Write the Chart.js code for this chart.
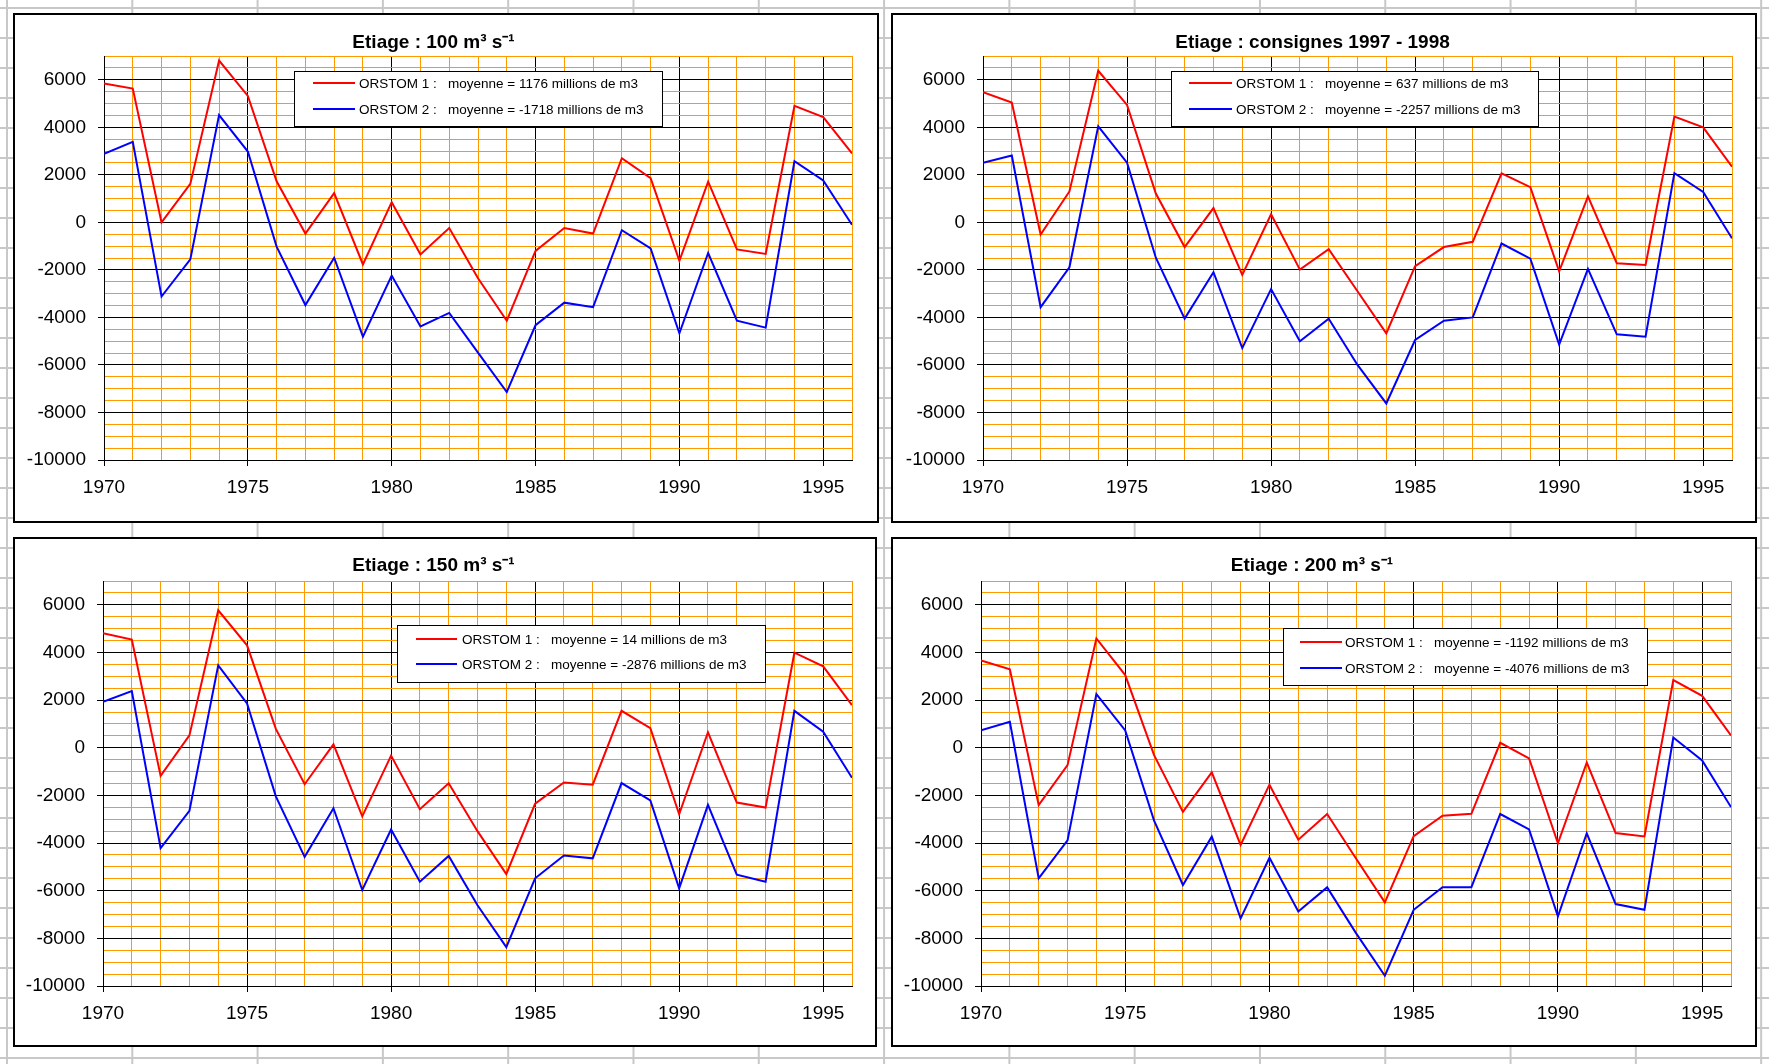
<!DOCTYPE html>
<html>
<head>
<meta charset="utf-8">
<script src="https://cdn.jsdelivr.net/npm/chart.js@4.4.0/dist/chart.umd.min.js"></script>
<style>
html, body { margin: 0; padding: 0; }
body {
    width: 1769px; height: 1064px; overflow: hidden; position: relative; background-color: #fff;
    background-image:
        linear-gradient(to right, #c8c8c8 0, #c8c8c8 2px, transparent 2px),
        linear-gradient(to bottom, #c8c8c8 0, #c8c8c8 2px, transparent 2px);
    background-size: 125.3px 100%, 100% 30px;
    background-position: 6px 0, 0 7px;
}
.panel { position: absolute; box-sizing: border-box; border: 2px solid #000; background: #fff; }
.panel canvas { display: block; }
</style>
</head>
<body>
<script>
// Data (millions de m3)
const years = [1970, 1971, 1972, 1973, 1974, 1975, 1976, 1977, 1978, 1979, 1980, 1981, 1982, 1983,
               1984, 1985, 1986, 1987, 1988, 1989, 1990, 1991, 1992, 1993, 1994, 1995, 1996];
const xTickLabels = [1970, 1975, 1980, 1985, 1990, 1995];
const yTickLabels = [-10000, -8000, -6000, -4000, -2000, 0, 2000, 4000, 6000];

const titles = ['Etiage : 100 m³ s⁻¹', 'Etiage : consignes 1997 - 1998', 'Etiage : 150 m³ s⁻¹', 'Etiage : 200 m³ s⁻¹'];
const orstom1Labels = [
    'ORSTOM 1 :   moyenne = 1176 millions de m3',
    'ORSTOM 1 :   moyenne = 637 millions de m3',
    'ORSTOM 1 :   moyenne = 14 millions de m3',
    'ORSTOM 1 :   moyenne = -1192 millions de m3'
];
const orstom2Labels = [
    'ORSTOM 2 :   moyenne = -1718 millions de m3',
    'ORSTOM 2 :   moyenne = -2257 millions de m3',
    'ORSTOM 2 :   moyenne = -2876 millions de m3',
    'ORSTOM 2 :   moyenne = -4076 millions de m3'
];

const orstom1_100 = [5840, 5630, 0, 1620, 6810, 5320, 1730, -470, 1230, -1770, 850, -1350, -240, -2350,
                     -4140, -1200, -240, -470, 2700, 1860, -1620, 1710, -1140, -1330, 4900, 4430, 2900];
const orstom2_100 = [2880, 3390, -3120, -1560, 4510, 2980, -1020, -3480, -1490, -4810, -2240, -4380, -3810, -5480,
                     -7140, -4330, -3380, -3570, -330, -1100, -4670, -1290, -4140, -4430, 2570, 1760, -100];

const orstom1_consignes = [5480, 5040, -510, 1300, 6380, 4940, 1210, -1040, 600, -2210, 340, -1990, -1130, -2900,
                           -4670, -1840, -1040, -820, 2060, 1480, -2060, 1090, -1720, -1790, 4450, 4000, 2340];
const orstom2_consignes = [2510, 2810, -3570, -1890, 4040, 2510, -1490, -4050, -2100, -5290, -2810, -5000, -4050, -6000,
                           -7620, -4950, -4140, -4000, -890, -1530, -5140, -1960, -4710, -4810, 2070, 1280, -670];

const orstom1_150 = [4810, 4540, -1180, 520, 5770, 4300, 790, -1530, 140, -2880, -330, -2580, -1490, -3500,
                     -5300, -2350, -1460, -1550, 1550, 820, -2790, 650, -2300, -2510, 3990, 3420, 1790];
const orstom2_150 = [1930, 2380, -4210, -2650, 3460, 1860, -2040, -4580, -2540, -5970, -3430, -5620, -4540, -6610,
                     -8370, -5480, -4520, -4640, -1480, -2210, -5900, -2400, -5330, -5620, 1550, 670, -1260];

const orstom1_200 = [3660, 3290, -2410, -730, 4590, 3050, -310, -2690, -1030, -4080, -1550, -3860, -2780, -4650,
                     -6490, -3710, -2850, -2770, 210, -450, -4010, -620, -3580, -3720, 2840, 2180, 520];
const orstom2_200 = [730, 1090, -5480, -3890, 2250, 730, -3060, -5760, -3730, -7160, -4620, -6870, -5860, -7780,
                     -9570, -6800, -5850, -5850, -2780, -3430, -7080, -3590, -6560, -6800, 430, -530, -2490];

const series1 = [orstom1_100, orstom1_consignes, orstom1_150, orstom1_200];
const series2 = [orstom2_100, orstom2_consignes, orstom2_150, orstom2_200];

// Page layout of the four panels (page pixels)
const FONT = "'Liberation Sans', Arial, sans-serif";
const ORANGE = '#ff9900';
const panels = [
    { box: [13, 13, 879, 523], plot: [104, 56, 852, 460], titleY: 43,
      legend: { x: 294, y: 71, w: 368, h: 55, rows: [11.5, 38], lx0: 19, lx1: 61, tx: 65 } },
    { box: [891, 13, 1757, 523], plot: [983, 56, 1732, 460], titleY: 43,
      legend: { x: 1171, y: 71, w: 367, h: 55, rows: [12, 38], lx0: 18, lx1: 61, tx: 65 } },
    { box: [13, 537, 877, 1047], plot: [103, 581, 852, 986], titleY: 566,
      legend: { x: 397, y: 625, w: 368, h: 57, rows: [14, 39], lx0: 19, lx1: 60, tx: 65 } },
    { box: [891, 537, 1757, 1047], plot: [981, 581, 1731, 986], titleY: 566,
      legend: { x: 1283, y: 628, w: 364, h: 57, rows: [14, 40], lx0: 17, lx1: 59, tx: 62 } }
];

// Legend drawn as a framed box inside the plot area, like Excel
const boxLegendPlugin = {
    id: 'boxLegend',
    afterDatasetsDraw(chart, args, opts) {
        const ctx = chart.ctx;
        ctx.save();
        ctx.fillStyle = '#fff';
        ctx.fillRect(opts.x, opts.y, opts.w, opts.h);
        ctx.strokeStyle = '#000';
        ctx.lineWidth = 1;
        ctx.strokeRect(Math.round(opts.x) + 0.5, Math.round(opts.y) + 0.5, opts.w, opts.h);
        ctx.font = '13.5px ' + FONT;
        ctx.textBaseline = 'middle';
        chart.data.datasets.forEach(function(ds, k) {
            const ry = Math.round(opts.y + opts.rows[k]);
            ctx.strokeStyle = ds.borderColor;
            ctx.lineWidth = 2;
            ctx.beginPath();
            ctx.moveTo(opts.x + opts.lx0, ry);
            ctx.lineTo(opts.x + opts.lx1, ry);
            ctx.stroke();
            ctx.fillStyle = '#000';
            ctx.fillText(ds.label, opts.x + opts.tx, ry + 1);
        });
        ctx.restore();
    }
};

function makeChart(i) {
    const p = panels[i];
    const div = document.createElement('div');
    div.className = 'panel';
    div.style.left = p.box[0] + 'px';
    div.style.top = p.box[1] + 'px';
    div.style.width = (p.box[2] - p.box[0]) + 'px';
    div.style.height = (p.box[3] - p.box[1]) + 'px';
    const cw = p.box[2] - p.box[0] - 4;
    const ch = p.box[3] - p.box[1] - 4;
    const cv = document.createElement('canvas');
    cv.width = cw; cv.height = ch;
    cv.style.width = cw + 'px'; cv.style.height = ch + 'px';
    div.appendChild(cv);
    document.body.appendChild(div);

    const ox = p.box[0] + 2, oy = p.box[1] + 2;
    const plotL = p.plot[0] - ox, plotT = p.plot[1] - oy;
    const plotR = p.plot[2] - ox, plotB = p.plot[3] - oy;
    const titleLH = 19 * 1.2;
    const padTop = (p.titleY - oy) - titleLH / 2;
    const padBottom = plotT - padTop - titleLH;

    new Chart(cv, {
        type: 'line',
        data: {
            datasets: [
                {
                    label: orstom1Labels[i],
                    data: years.map((y, k) => ({ x: y, y: series1[i][k] })),
                    borderColor: '#ff0000',
                    borderWidth: 2,
                    pointRadius: 0,
                    tension: 0,
                    fill: false
                },
                {
                    label: orstom2Labels[i],
                    data: years.map((y, k) => ({ x: y, y: series2[i][k] })),
                    borderColor: '#0000ff',
                    borderWidth: 2,
                    pointRadius: 0,
                    tension: 0,
                    fill: false
                }
            ]
        },
        options: {
            responsive: false,
            animation: false,
            devicePixelRatio: 1,
            layout: { padding: { left: 0, right: cw - plotR, top: 0, bottom: 0 } },
            plugins: {
                legend: { display: false },
                tooltip: { enabled: false },
                title: {
                    display: true,
                    text: titles[i],
                    color: '#000',
                    font: { family: FONT, size: 19, weight: 'bold', lineHeight: 1.2 },
                    padding: { top: padTop, bottom: padBottom }
                },
                boxLegend: {
                    x: p.legend.x - ox, y: p.legend.y - oy, w: p.legend.w, h: p.legend.h,
                    rows: p.legend.rows, lx0: p.legend.lx0, lx1: p.legend.lx1, tx: p.legend.tx
                }
            },
            scales: {
                x: {
                    type: 'linear',
                    min: 1970,
                    max: 1996,
                    afterFit: function(scale) { scale.height = ch - plotB; },
                    ticks: {
                        stepSize: 1,
                        autoSkip: false,
                        maxRotation: 0,
                        color: '#000',
                        padding: 10,
                        font: { family: FONT, size: 19 },
                        callback: function(v) { return xTickLabels.includes(v) ? String(v) : ''; }
                    },
                    grid: {
                        lineWidth: 1,
                        tickLength: 6,
                        color: function(c) { return c.tick && c.tick.value % 5 === 0 ? '#000' : ORANGE; },
                        tickColor: function(c) { return c.tick && c.tick.value % 5 === 0 ? '#000' : 'rgba(0,0,0,0)'; }
                    },
                    border: { color: '#000', width: 1 }
                },
                y: {
                    min: -10000,
                    max: 7000,
                    afterFit: function(scale) { scale.width = plotL; },
                    ticks: {
                        stepSize: 500,
                        autoSkip: false,
                        color: '#000',
                        padding: 12,
                        font: { family: FONT, size: 19 },
                        callback: function(v) { return yTickLabels.includes(v) ? String(v) : ''; }
                    },
                    grid: {
                        lineWidth: 1,
                        tickLength: 6,
                        color: function(c) { return c.tick && c.tick.value % 2000 === 0 ? '#000' : ORANGE; },
                        tickColor: function(c) { return c.tick && c.tick.value % 2000 === 0 ? '#000' : 'rgba(0,0,0,0)'; }
                    },
                    border: { color: '#000', width: 1 }
                }
            }
        },
        plugins: [boxLegendPlugin]
    });
}

for (let i = 0; i < 4; i++) {
    makeChart(i);
}
</script>
</body>
</html>
